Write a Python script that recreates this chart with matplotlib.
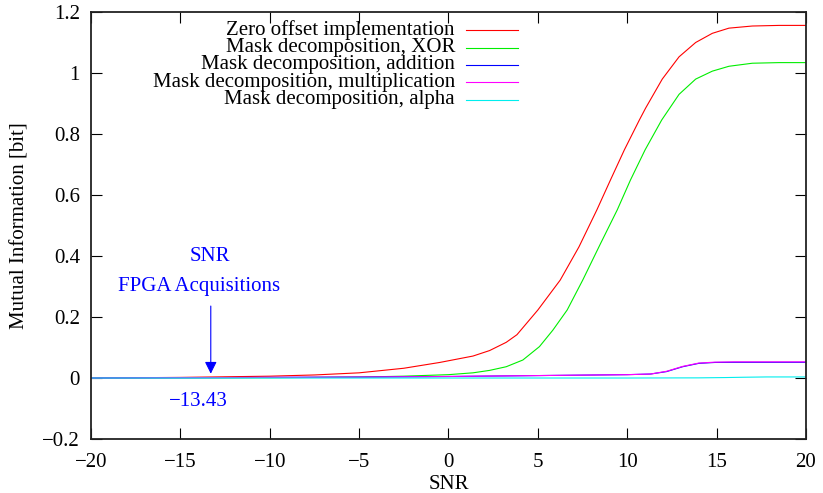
import numpy as np
from matplotlib import pyplot as plt

# (SNR in dB, mutual information in bit)
snr_zero = [-20, -15, -10, -7.5, -5, -2.5, -0.49, 1.37, 2.3, 3.23, 3.83, 5.0, 6.25, 7.3, 8.3, 9.06, 9.84, 10.68, 11.03, 11.96, 12.9, 13.83, 14.76, 15.69, 17.0, 18.5, 20]
mi_zero = [0.0, 0.002, 0.006, 0.01, 0.017, 0.032, 0.051, 0.072, 0.09, 0.117, 0.142, 0.223, 0.321, 0.43, 0.551, 0.649, 0.748, 0.846, 0.885, 0.98, 1.053, 1.1, 1.13, 1.147, 1.154, 1.156, 1.156]

snr_xor = [-20, -10, -5, -2.5, 0, 1.37, 2.3, 3.23, 4.16, 5.09, 5.84, 6.64, 7.51, 8.5, 9.44, 10.18, 11.0, 11.93, 12.9, 13.83, 14.76, 15.69, 17.0, 18.5, 20]
mi_xor = [0.0, 0.001, 0.003, 0.006, 0.011, 0.017, 0.025, 0.037, 0.059, 0.103, 0.157, 0.223, 0.321, 0.44, 0.551, 0.649, 0.748, 0.846, 0.93, 0.98, 1.006, 1.022, 1.032, 1.034, 1.034]

snr_add = [-20, -10, -5, 0, 5, 10, 11.3, 12.2, 13.1, 14.0, 14.9, 16, 20]
mi_add = [0.0, 0.002, 0.003, 0.005, 0.008, 0.011, 0.013, 0.021, 0.037, 0.048, 0.051, 0.0515, 0.0515]

snr_mul = [-20, -10, -5, 0, 5, 10, 11.3, 12.2, 13.1, 14.0, 14.9, 16, 20]
mi_mul = [0.0, 0.002, 0.003, 0.005, 0.008, 0.011, 0.013, 0.022, 0.038, 0.049, 0.052, 0.053, 0.053]

snr_alpha = [-20, 0, 10, 14, 15.5, 16.5, 17.8, 20]
mi_alpha = [0.0, 0.0, 0.0, 0.0005, 0.0015, 0.0025, 0.0035, 0.0035]

labels = ['Zero offset implementation', 'Mask decomposition, XOR', 'Mask decomposition, addition',
          'Mask decomposition, multiplication', 'Mask decomposition, alpha']
colors = ['#ff0000', '#00ee00', '#0000ff', '#ff00ff', '#00eeee']

fpga_snr = -13.43

plt.rcParams['font.family'] = ['Liberation Serif', 'DejaVu Serif']

fig = plt.figure(figsize=(8.23, 4.93), dpi=100)
ax = fig.add_axes([0.1106, 0.1095, 0.8687, 0.8662])

series = [(snr_zero, mi_zero), (snr_xor, mi_xor), (snr_add, mi_add), (snr_mul, mi_mul), (snr_alpha, mi_alpha)]
for k in range(len(series)):
    xs, ys = series[k]
    ax.plot(xs, ys, color=colors[k], lw=0.8)

ax.set_xlim(-20, 20)
ax.set_ylim(-0.2, 1.2)
ax.set_xticks(np.arange(-20, 21, 5))
ax.set_yticks(np.arange(-0.2, 1.21, 0.2))
ax.set_xticklabels(['\u221220', '\u221215', '\u221210', '\u22125', '0', '5', '10', '15', '20'])
ax.set_yticklabels(['\u22120.2', '0', '0.2', '0.4', '0.6', '0.8', '1', '1.2'])
ax.tick_params(axis='both', direction='in', length=8, width=0.8, top=True, right=True, labelsize=15)
ax.tick_params(axis='x', pad=10)
ax.tick_params(axis='y', pad=8)
for s in ax.spines.values():
    s.set_linewidth(1.3)
    s.set_color('#222222')

ax.set_xlabel('SNR', fontsize=15, labelpad=2)
ax.set_ylabel('Mutual Information [bit]', fontsize=15, labelpad=9)

# legend drawn by hand: text right-aligned, sample line to the right
for k in range(len(labels)):
    yk = 0.957 - k * 0.0405
    ax.text(0.509, yk, labels[k], transform=ax.transAxes, ha='right', va='center', fontsize=15)
    ax.plot([0.525, 0.597], [yk, yk], transform=ax.transAxes, color=colors[k], lw=0.8)

# arrow marking FPGA acquisitions SNR
ax.annotate('', xy=(-13.3, 0.005), xytext=(-13.3, 0.245),
            arrowprops=dict(arrowstyle='-|>', color='#0000ff', lw=0.8, mutation_scale=18))
ax.text(-13.35, 0.40, 'SNR', color='#0000ff', ha='center', va='center', fontsize=15)
ax.text(-13.96, 0.30, 'FPGA Acquisitions', color='#0000ff', ha='center', va='center', fontsize=15)
ax.text(-14.0, -0.078, '\u2212%.2f' % abs(fpga_snr), color='#0000ff', ha='center', va='center', fontsize=15)

plt.savefig('out.png', dpi=100)
plt.close()
